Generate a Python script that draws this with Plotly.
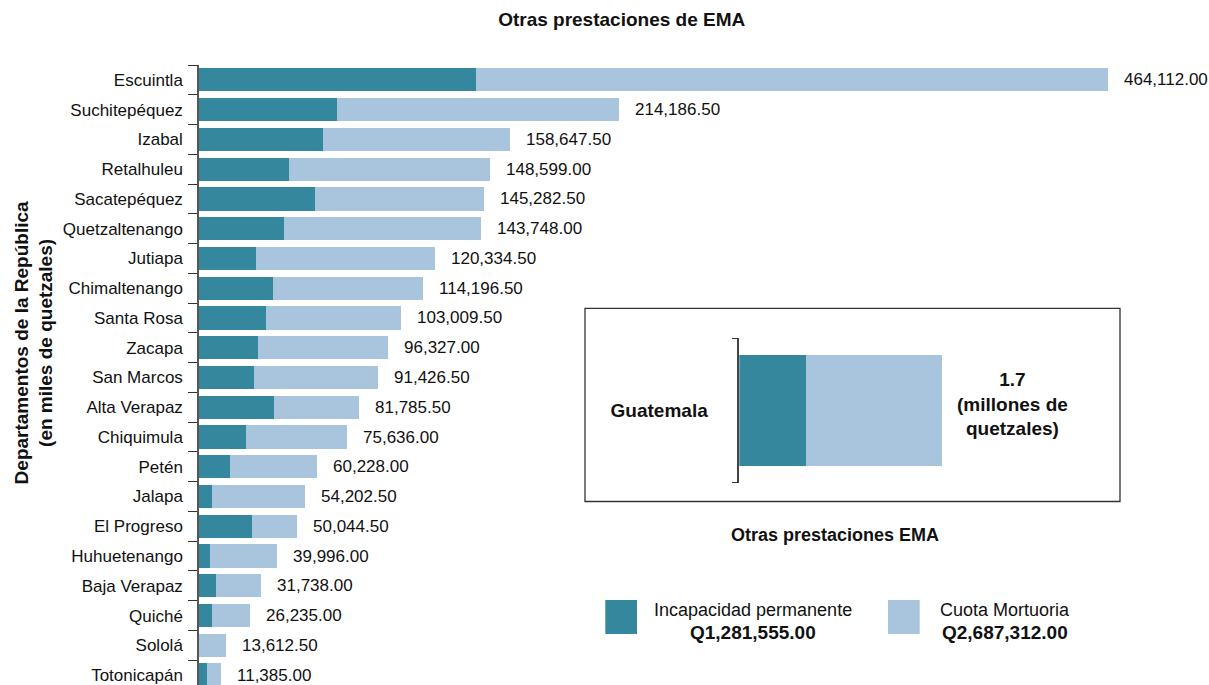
import plotly.graph_objects as go

# ---------------- data ----------------
departamentos = ["Escuintla", "Suchitepéquez", "Izabal", "Retalhuleu", "Sacatepéquez",
                 "Quetzaltenango", "Jutiapa", "Chimaltenango", "Santa Rosa", "Zacapa",
                 "San Marcos", "Alta Verapaz", "Chiquimula", "Petén", "Jalapa",
                 "El Progreso", "Huhuetenango", "Baja Verapaz", "Quiché", "Sololá",
                 "Totonicapán"]
totales = [464112.00, 214186.50, 158647.50, 148599.00, 145282.50,
           143748.00, 120334.50, 114196.50, 103009.50, 96327.00,
           91426.50, 81785.50, 75636.00, 60228.00, 54202.50,
           50044.50, 39996.00, 31738.00, 26235.00, 13612.50,
           11385.00]
incapacidad = [141400, 70440, 63290, 45940, 59200,
               43380, 29100, 37600, 34200, 30100,
               28070, 38280, 24000, 15820, 6640,
               27050, 5600, 8680, 6640, 0,
               4080]
cuota = [t - i for t, i in zip(totales, incapacidad)]

guate_cat = ["Guatemala"]
guate_incap = [0.565]   # millones de quetzales
guate_cuota = [1.159]
guate_label = "1.7<br>(millones de<br>quetzales)"

leyenda_nombres = ["Incapacidad permanente", "Cuota Mortuoria"]
leyenda_totales = ["Q1,281,555.00", "Q2,687,312.00"]

# ---------------- style ----------------
C_DARK = "#34879c"
C_LIGHT = "#a9c5dd"
FONT = "Liberation Sans, Arial, Helvetica, sans-serif"
TXT = "#111111"

W, H = 1209, 685
ML, MR, MT, MB = 199, 9, 65, 0
PW, PH = W - ML - MR, H - MT - MB


def px(x):
    return (x - ML) / PW


def py(y):
    return (H - MB - y) / PH


ROW = 29.76
x_max = totales[0] * PW / 909.3

fig = go.Figure()
fig.add_trace(go.Bar(y=departamentos, x=incapacidad, orientation="h",
                     marker=dict(color=C_DARK, line=dict(width=0)),
                     name=leyenda_nombres[0], showlegend=False))
fig.add_trace(go.Bar(y=departamentos, x=cuota, orientation="h",
                     marker=dict(color=C_LIGHT, line=dict(width=0)),
                     name=leyenda_nombres[1], showlegend=False))

# inset
fig.add_trace(go.Bar(y=guate_cat, x=guate_incap, orientation="h", xaxis="x2", yaxis="y2",
                     marker=dict(color=C_DARK, line=dict(width=0)), width=0.773,
                     showlegend=False))
fig.add_trace(go.Bar(y=guate_cat, x=guate_cuota, orientation="h", xaxis="x2", yaxis="y2",
                     marker=dict(color=C_LIGHT, line=dict(width=0)), width=0.773,
                     showlegend=False))

annotations = []
for d, t in zip(departamentos, totales):
    annotations.append(dict(x=t, y=d, xref="x", yref="y", text=f"{t:,.2f}",
                            showarrow=False, xanchor="left", yanchor="middle",
                            xshift=14, font=dict(size=17, color=TXT, family=FONT)))

g_total = guate_incap[0] + guate_cuota[0]
annotations.append(dict(x=g_total, y=guate_cat[0], xref="x2", yref="y2",
                        text=f"<b>{guate_label}</b>", showarrow=False,
                        xanchor="center", yanchor="middle", xshift=71, yshift=7,
                        font=dict(size=19, color=TXT, family=FONT)))

# y axis title
annotations.append(dict(x=px(34), y=py(343.4), xref="paper", yref="paper",
                        text="<b>Departamentos de la República<br>(en miles de quetzales)</b>",
                        textangle=-90, showarrow=False, xanchor="center", yanchor="middle",
                        font=dict(size=19, color=TXT, family=FONT)))

# inset caption & legend
annotations.append(dict(x=px(834.5), y=py(535), xref="paper", yref="paper",
                        text="<b>Otras prestaciones EMA</b>", showarrow=False,
                        xanchor="center", yanchor="middle",
                        font=dict(size=18, color=TXT, family=FONT)))
leg_cx = [752.5, 1005]
leg_box = [(605.3, 637), (888, 919.7)]
leg_col = [C_DARK, C_LIGHT]
shapes = []
for nm, tot, cx, (bx0, bx1), col in zip(leyenda_nombres, leyenda_totales, leg_cx, leg_box, leg_col):
    annotations.append(dict(x=px(cx), y=py(610), xref="paper", yref="paper", text=nm,
                            showarrow=False, xanchor="center", yanchor="middle",
                            font=dict(size=18, color=TXT, family=FONT)))
    annotations.append(dict(x=px(cx), y=py(632), xref="paper", yref="paper",
                            text=f"<b>{tot}</b>", showarrow=False, xanchor="center",
                            yanchor="middle", font=dict(size=19, color=TXT, family=FONT)))
    shapes.append(dict(type="rect", xref="paper", yref="paper",
                       x0=px(bx0), x1=px(bx1), y0=py(634), y1=py(600),
                       fillcolor=col, line=dict(width=0)))

# inset frame
shapes.append(dict(type="rect", xref="paper", yref="paper",
                   x0=px(585), x1=px(1120), y0=py(501.5), y1=py(308.3),
                   fillcolor="rgba(0,0,0,0)", line=dict(color="#333333", width=1.3), layer="below"))

fig.update_layout(
    width=W, height=H,
    margin=dict(l=ML, r=MR, t=MT, b=MB),
    paper_bgcolor="white", plot_bgcolor="white",
    barmode="stack", bargap=0.22,
    font=dict(family=FONT, color=TXT),
    title=dict(text="<b>Otras prestaciones de EMA</b>", x=621.7 / W, xanchor="center",
               y=1 - 19 / H, yanchor="middle", yref="container",
               font=dict(size=19, color=TXT, family=FONT)),
    xaxis=dict(range=[0, x_max], visible=False, fixedrange=True),
    yaxis=dict(type="category", categoryorder="array", categoryarray=departamentos,
               range=[-0.5 + PH / ROW, -0.5], showline=True, linecolor="#555555", linewidth=1.5,
               ticks="outside", tickson="boundaries", ticklen=9, tickcolor="#333333", tickwidth=1.3,
               ticklabelstandoff=11,
               tickfont=dict(size=17, color=TXT, family=FONT), showgrid=False, zeroline=False),
    xaxis2=dict(domain=[px(739.3), px(1100)], range=[0, 360.7 / 117.57], anchor="y2",
                visible=False),
    yaxis2=dict(domain=[py(482.7), py(338.3)], anchor="x2", type="category",
                range=[-0.5, 0.5], showline=True, linecolor="#444444", linewidth=1.5,
                ticks="outside", tickson="boundaries", ticklen=6, tickcolor="#333333",
                tickwidth=1.3, ticklabelstandoff=26,
                tickfont=dict(size=19, color=TXT, family=FONT), tickprefix="<b>",
                ticksuffix="</b>", showgrid=False, zeroline=False),
    annotations=annotations,
    shapes=shapes,
)

fig.write_html("out.html", config={"displayModeBar": False})

# remove the browser's default page margin so the figure sits at the window origin
with open("out.html", encoding="utf-8") as f:
    html = f.read()
html = html.replace("<head>", "<head><style>html,body{margin:0;padding:0;overflow:hidden;}</style>", 1)
with open("out.html", "w", encoding="utf-8") as f:
    f.write(html)
